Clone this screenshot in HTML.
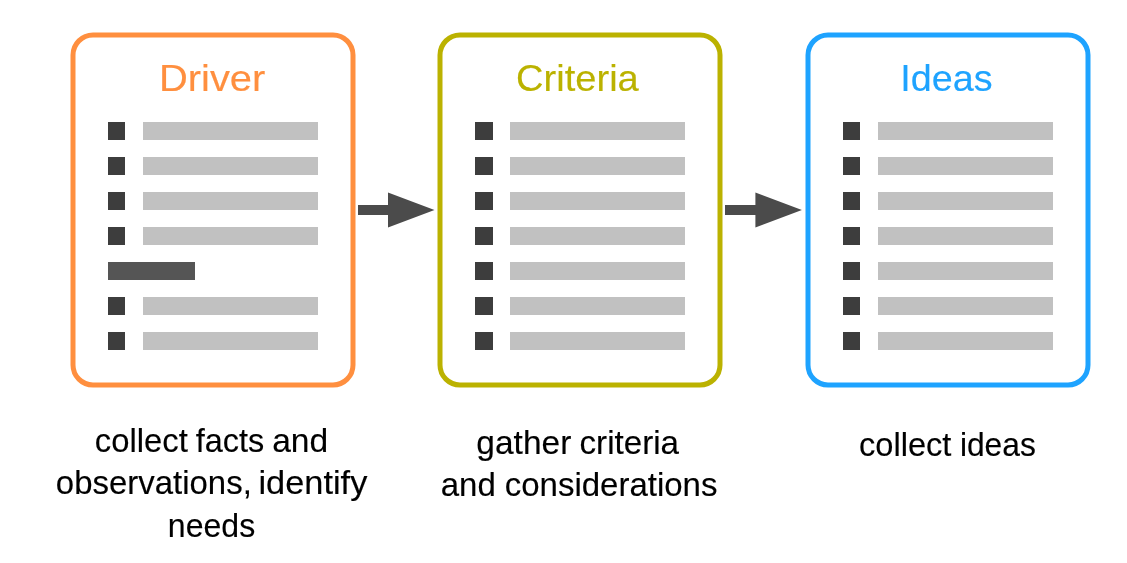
<!DOCTYPE html>
<html><head><meta charset="utf-8"><style>
html,body{margin:0;padding:0;background:#fff;width:1127px;height:563px;overflow:hidden}
svg{display:block;font-family:"Liberation Sans",sans-serif;will-change:transform}
</style></head><body>
<svg width="1127" height="563" viewBox="0 0 1127 563">
<rect x="73" y="35" width="280" height="350" rx="20" ry="20" fill="none" stroke="#FF8F3F" stroke-width="5"/>
<text transform="translate(212.1 91) scale(1.078 1)" text-anchor="middle" fill="#FF8F3F" stroke="#FF8F3F" stroke-width="0.15" font-size="37">Driver</text>
<rect x="108" y="122" width="17" height="18" fill="#3d3d3d"/>
<rect x="143" y="122" width="175" height="18" fill="#c1c1c1"/>
<rect x="108" y="157" width="17" height="18" fill="#3d3d3d"/>
<rect x="143" y="157" width="175" height="18" fill="#c1c1c1"/>
<rect x="108" y="192" width="17" height="18" fill="#3d3d3d"/>
<rect x="143" y="192" width="175" height="18" fill="#c1c1c1"/>
<rect x="108" y="227" width="17" height="18" fill="#3d3d3d"/>
<rect x="143" y="227" width="175" height="18" fill="#c1c1c1"/>
<rect x="108" y="262" width="87" height="18" fill="#555555"/>
<rect x="108" y="297" width="17" height="18" fill="#3d3d3d"/>
<rect x="143" y="297" width="175" height="18" fill="#c1c1c1"/>
<rect x="108" y="332" width="17" height="18" fill="#3d3d3d"/>
<rect x="143" y="332" width="175" height="18" fill="#c1c1c1"/>
<rect x="440" y="35" width="280" height="350" rx="20" ry="20" fill="none" stroke="#BBB200" stroke-width="5"/>
<text transform="translate(577.42 91) scale(1.0298 1)" text-anchor="middle" fill="#BBB200" stroke="#BBB200" stroke-width="0.15" font-size="37">Criteria</text>
<rect x="475" y="122" width="18" height="18" fill="#3d3d3d"/>
<rect x="510" y="122" width="175" height="18" fill="#c1c1c1"/>
<rect x="475" y="157" width="18" height="18" fill="#3d3d3d"/>
<rect x="510" y="157" width="175" height="18" fill="#c1c1c1"/>
<rect x="475" y="192" width="18" height="18" fill="#3d3d3d"/>
<rect x="510" y="192" width="175" height="18" fill="#c1c1c1"/>
<rect x="475" y="227" width="18" height="18" fill="#3d3d3d"/>
<rect x="510" y="227" width="175" height="18" fill="#c1c1c1"/>
<rect x="475" y="262" width="18" height="18" fill="#3d3d3d"/>
<rect x="510" y="262" width="175" height="18" fill="#c1c1c1"/>
<rect x="475" y="297" width="18" height="18" fill="#3d3d3d"/>
<rect x="510" y="297" width="175" height="18" fill="#c1c1c1"/>
<rect x="475" y="332" width="18" height="18" fill="#3d3d3d"/>
<rect x="510" y="332" width="175" height="18" fill="#c1c1c1"/>
<rect x="808" y="35" width="280" height="350" rx="20" ry="20" fill="none" stroke="#1EA3FF" stroke-width="5"/>
<text transform="translate(946.42 91) scale(1.019 1)" text-anchor="middle" fill="#1EA3FF" stroke="#1EA3FF" stroke-width="0.15" font-size="37">Ideas</text>
<rect x="843" y="122" width="17" height="18" fill="#3d3d3d"/>
<rect x="878" y="122" width="175" height="18" fill="#c1c1c1"/>
<rect x="843" y="157" width="17" height="18" fill="#3d3d3d"/>
<rect x="878" y="157" width="175" height="18" fill="#c1c1c1"/>
<rect x="843" y="192" width="17" height="18" fill="#3d3d3d"/>
<rect x="878" y="192" width="175" height="18" fill="#c1c1c1"/>
<rect x="843" y="227" width="17" height="18" fill="#3d3d3d"/>
<rect x="878" y="227" width="175" height="18" fill="#c1c1c1"/>
<rect x="843" y="262" width="17" height="18" fill="#3d3d3d"/>
<rect x="878" y="262" width="175" height="18" fill="#c1c1c1"/>
<rect x="843" y="297" width="17" height="18" fill="#3d3d3d"/>
<rect x="878" y="297" width="175" height="18" fill="#c1c1c1"/>
<rect x="843" y="332" width="17" height="18" fill="#3d3d3d"/>
<rect x="878" y="332" width="175" height="18" fill="#c1c1c1"/>
<text transform="translate(141.29 452) scale(0.9937 1)" text-anchor="middle" fill="#000000" stroke="#000000" stroke-width="0.15" font-size="33">collect</text>
<text transform="translate(229.89 452) scale(0.9828 1)" text-anchor="middle" fill="#000000" stroke="#000000" stroke-width="0.15" font-size="33">facts</text>
<text transform="translate(300.19 452) scale(1.0187 1)" text-anchor="middle" fill="#000000" stroke="#000000" stroke-width="0.15" font-size="33">and</text>
<text transform="translate(153.83 494) scale(0.9986 1)" text-anchor="middle" fill="#000000" stroke="#000000" stroke-width="0.15" font-size="33">observations,</text>
<text transform="translate(312.89 494) scale(1.0415 1)" text-anchor="middle" fill="#000000" stroke="#000000" stroke-width="0.15" font-size="33">identify</text>
<text transform="translate(211.51 537) scale(0.9715 1)" text-anchor="middle" fill="#000000" stroke="#000000" stroke-width="0.15" font-size="33">needs</text>
<text transform="translate(523.84 454) scale(1.0148 1)" text-anchor="middle" fill="#000000" stroke="#000000" stroke-width="0.15" font-size="33">gather</text>
<text transform="translate(629.27 454) scale(1.0055 1)" text-anchor="middle" fill="#000000" stroke="#000000" stroke-width="0.15" font-size="33">criteria</text>
<text transform="translate(468.28 495.7) scale(0.9995 1)" text-anchor="middle" fill="#000000" stroke="#000000" stroke-width="0.15" font-size="33">and</text>
<text transform="translate(611.07 495.7) scale(0.9999 1)" text-anchor="middle" fill="#000000" stroke="#000000" stroke-width="0.15" font-size="33">considerations</text>
<text transform="translate(905.18 456) scale(0.9893 1)" text-anchor="middle" fill="#000000" stroke="#000000" stroke-width="0.15" font-size="33">collect</text>
<text transform="translate(997.86 456) scale(0.9632 1)" text-anchor="middle" fill="#000000" stroke="#000000" stroke-width="0.15" font-size="33">ideas</text>
<path d="M358 205 H388 V192.6 L434.5 210 L388 227.4 V215 H358 Z" fill="#4b4b4b"/>
<path d="M725 205 H755.4 V192.6 L801.9 210 L755.4 227.4 V215 H725 Z" fill="#4b4b4b"/>
</svg>
</body></html>
